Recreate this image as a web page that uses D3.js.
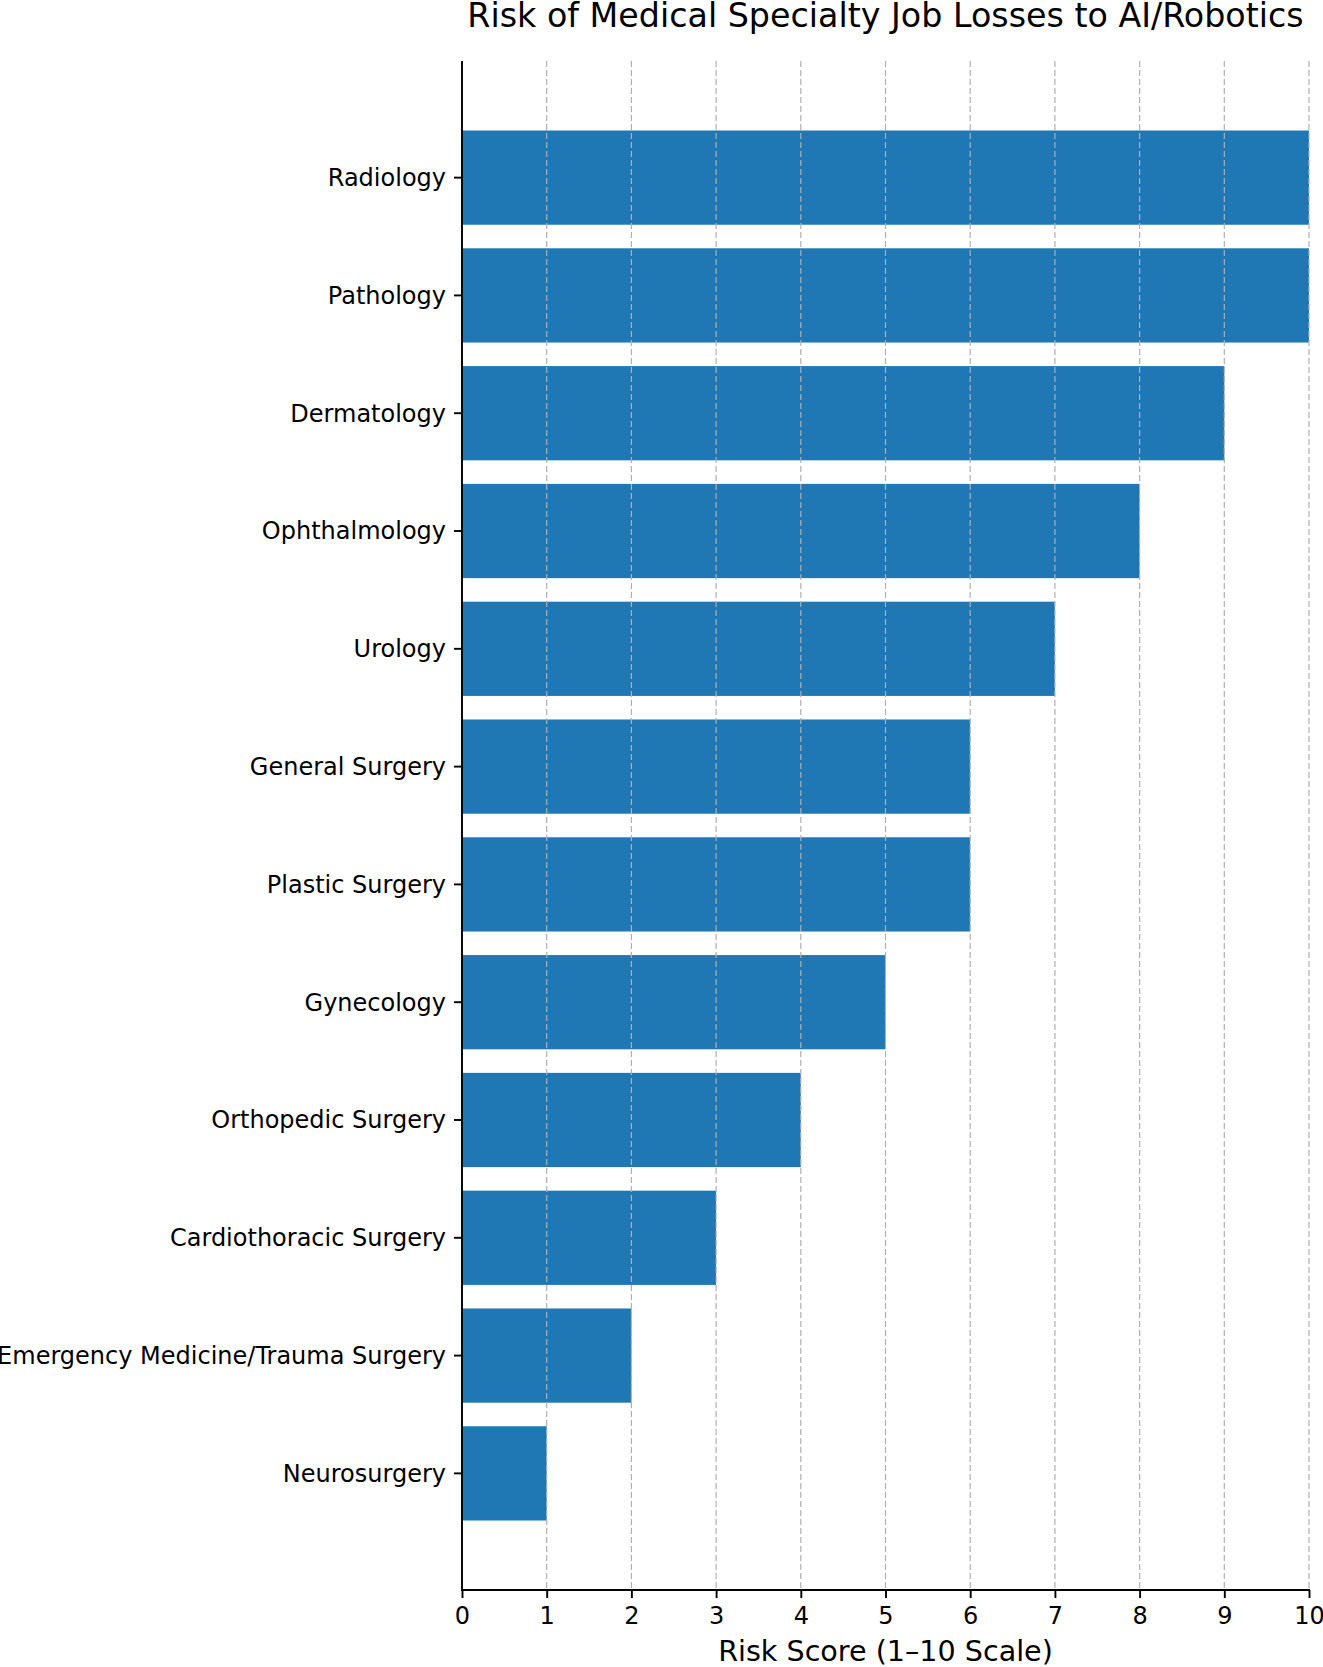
<!DOCTYPE html>
<html>
<head>
<meta charset="utf-8">
<script src="https://cdn.jsdelivr.net/npm/d3@7"></script>
<style>
    body { margin: 0; background: white; }
    text { font-family: 'DejaVu Sans', sans-serif; fill: black; }
</style>
</head>
<body>
<div id="chart"></div>
<script>
// DATA
const specialties = [
    'Radiology', 'Pathology', 'Dermatology', 'Ophthalmology', 'Urology',
    'General Surgery', 'Plastic Surgery', 'Gynecology', 'Orthopedic Surgery',
    'Cardiothoracic Surgery', 'Emergency Medicine/Trauma Surgery', 'Neurosurgery'
];
const riskScores = [10, 10, 9, 8, 7, 6, 6, 5, 4, 3, 2, 1];
const xTicks = [0, 1, 2, 3, 4, 5, 6, 7, 8, 9, 10];

const TITLE = 'Risk of Medical Specialty Job Losses to AI/Robotics';
const XLABEL = 'Risk Score (1\u201310 Scale)';

// FIGURE DIMENSIONS
const FIGURE = {
    WIDTH: 1323,
    HEIGHT: 1667
};
const PLOT = {
    LEFT: 462,
    RIGHT: 1309,
    TOP: 61,
    BOTTOM: 1590
};

const x = d3.scaleLinear()
    .domain([0, 10])
    .range([PLOT.LEFT, PLOT.RIGHT]);

const y = d3.scaleBand()
    .domain(specialties)
    .range([PLOT.TOP, PLOT.BOTTOM])
    .paddingInner(0.2)
    .paddingOuter(0.59);

const data = specialties.map((s, i) => ({ name: s, value: riskScores[i] }));

const svg = d3.select('#chart')
    .append('svg')
        .attr('width', FIGURE.WIDTH)
        .attr('height', FIGURE.HEIGHT);

// bars
svg.append('g')
        .attr('class', 'bars')
    .selectAll('rect')
    .data(data)
    .enter()
    .append('rect')
        .attr('x', x(0))
        .attr('y', d => y(d.name))
        .attr('width', d => x(d.value) - x(0))
        .attr('height', y.bandwidth())
        .attr('fill', '#1f77b4');

// vertical grid (drawn over bars)
svg.append('g')
        .attr('class', 'grid')
    .selectAll('line')
    .data(xTicks)
    .enter()
    .append('line')
        .attr('x1', d => x(d))
        .attr('x2', d => x(d))
        .attr('y1', PLOT.TOP)
        .attr('y2', PLOT.BOTTOM)
        .attr('stroke', '#b0b0b0')
        .attr('stroke-width', 1.2)
        .attr('stroke-dasharray', '6,3');

// x axis
const xAxis = d3.axisBottom(x)
    .tickValues(xTicks)
    .tickFormat(d3.format('d'))
    .tickSize(8)
    .tickPadding(8);

const gx = svg.append('g')
    .attr('class', 'xAxis')
    .attr('transform', `translate(0, ${PLOT.BOTTOM})`)
    .call(xAxis);

// y axis
const yAxis = d3.axisLeft(y)
    .tickSize(8)
    .tickPadding(8);

const gy = svg.append('g')
    .attr('class', 'yAxis')
    .attr('transform', `translate(${PLOT.LEFT}, 0)`)
    .call(yAxis);

[gx, gy].forEach(g => {
    g.select('.domain').remove();
    g.selectAll('.tick line').attr('stroke', 'black').attr('stroke-width', 1.9);
    g.selectAll('.tick text').attr('font-size', 24).attr('font-family', 'DejaVu Sans');
});
gx.selectAll('.tick text').attr('dy', null).attr('y', 34);
gy.selectAll('.tick text').attr('dy', '0.35em');

// spines
svg.append('line')
    .attr('x1', PLOT.LEFT).attr('x2', PLOT.LEFT)
    .attr('y1', PLOT.TOP).attr('y2', PLOT.BOTTOM + 1)
    .attr('stroke', 'black').attr('stroke-width', 1.9);
svg.append('line')
    .attr('x1', PLOT.LEFT - 1).attr('x2', PLOT.RIGHT + 1)
    .attr('y1', PLOT.BOTTOM).attr('y2', PLOT.BOTTOM)
    .attr('stroke', 'black').attr('stroke-width', 1.9);

// title and axis label
svg.append('text')
    .attr('x', (PLOT.LEFT + PLOT.RIGHT) / 2)
    .attr('y', 27)
    .attr('text-anchor', 'middle')
    .attr('font-size', 33.3)
    .text(TITLE);

svg.append('text')
    .attr('x', (PLOT.LEFT + PLOT.RIGHT) / 2)
    .attr('y', 1661)
    .attr('text-anchor', 'middle')
    .attr('font-size', 28.6)
    .text(XLABEL);
</script>
</body>
</html>
